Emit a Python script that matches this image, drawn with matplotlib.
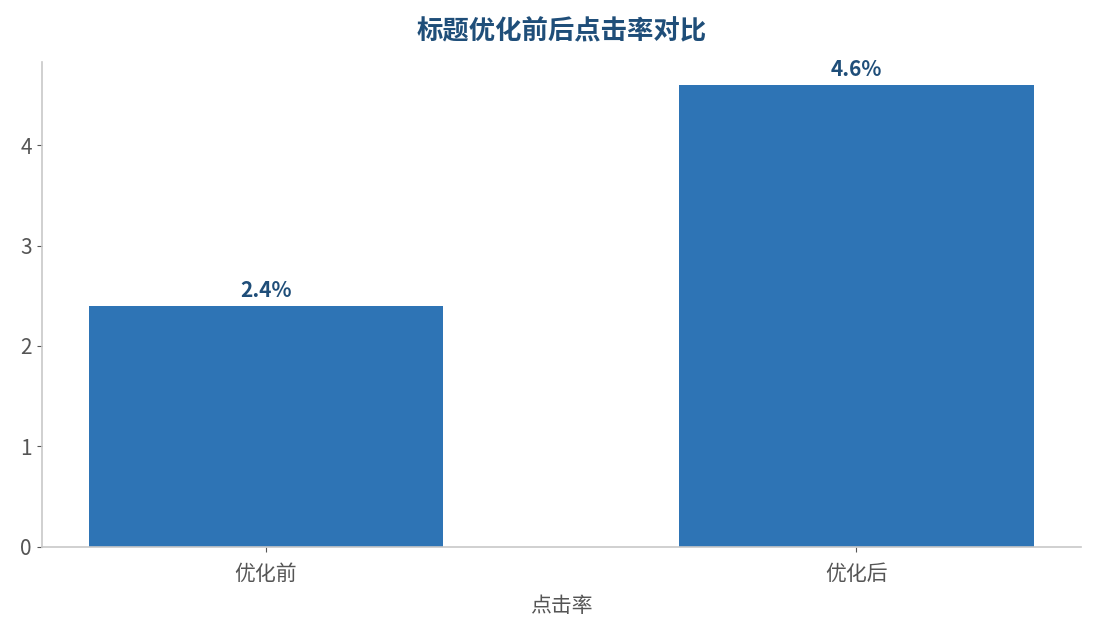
import matplotlib
matplotlib.use("Agg")
import matplotlib.pyplot as plt

plt.rcParams['font.family'] = ['Noto Sans CJK SC', 'DejaVu Sans']

# data
categories = ["优化前", "优化后"]
ctr = [2.4, 4.6]
labels = ["2.4%", "4.6%"]

bar_color = "#2e74b5"
dark_blue = "#1f4e79"

fig, ax = plt.subplots(figsize=(10.95, 6.3), dpi=100)
fig.subplots_adjust(left=0.038, right=0.987, top=0.902, bottom=0.132)

x = range(len(categories))
bars = ax.bar(x, ctr, width=0.6, color=bar_color)
for b, t in zip(bars, labels):
    ax.text(b.get_x() + b.get_width() / 2, b.get_height() + 0.05, t,
            ha="center", va="bottom", fontsize=15, fontweight="bold", color=dark_blue)

ax.set_xticks(list(x))
ax.set_xticklabels(categories)
ax.set_xlim(-0.38, 1.38)
ax.set_ylim(0, 4.83)
ax.set_xlabel("点击率", fontsize=15, color="#555555", labelpad=7)
ax.set_title("标题优化前后点击率对比", fontsize=19, fontweight="bold", color=dark_blue, pad=16)

ax.tick_params(axis="both", labelsize=15, labelcolor="#555555", color="#555555")
ax.tick_params(axis="x", pad=8)
for s in ["top", "right"]:
    ax.spines[s].set_visible(False)
for s in ["left", "bottom"]:
    ax.spines[s].set_color("#c8c8c8")
    ax.spines[s].set_linewidth(1.2)

plt.savefig("out.png")
